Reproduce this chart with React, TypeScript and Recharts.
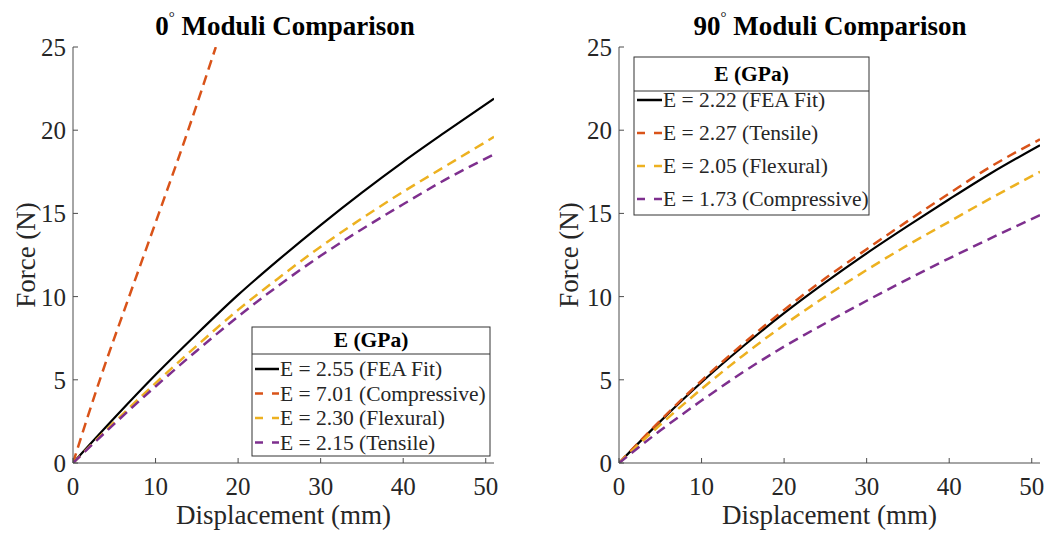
import React from 'react';
import { LineChart, Line, XAxis, YAxis } from 'recharts';

// ---------- data ----------
const xTicks = [0, 10, 20, 30, 40, 50];
const yTicks = [0, 5, 10, 15, 20, 25];
const xDomain = [0, 51];
const yDomain = [0, 25];

const titleLeft = '0';
const titleRight = '90';
const titleRest = ' Moduli Comparison';
const xLabel = 'Displacement (mm)';
const yLabel = 'Force (N)';
const legendHeader = 'E (GPa)';

// 0 degree
const dispLeft = [0, 5, 10, 15, 20, 25, 30, 35, 40, 45, 51];
const feaLeft = [0, 2.7, 5.3, 7.75, 10.1, 12.25, 14.3, 16.25, 18.1, 19.85, 21.9];
const flexLeft = [0, 2.45, 4.8, 7.05, 9.2, 11.15, 13.0, 14.7, 16.3, 17.8, 19.6];
const tensLeft = [0, 2.35, 4.6, 6.75, 8.8, 10.7, 12.45, 14.05, 15.55, 17.0, 18.55];
const compDispLeft = [0, 3.25, 6.8, 10.4, 13.95, 17.3];
const compLeft = [0, 5, 10, 15, 20, 25];
const namesLeft = ['E = 2.55 (FEA Fit)', 'E = 7.01 (Compressive)', 'E = 2.30 (Flexural)', 'E = 2.15 (Tensile)'];

// 90 degree
const dispRight = [0, 5, 10, 15, 20, 25, 30, 35, 40, 45, 51];
const feaRight = [0, 2.5, 4.85, 7.0, 9.0, 10.85, 12.6, 14.25, 15.85, 17.4, 19.1];
const tensRight = [0, 2.55, 4.95, 7.15, 9.2, 11.1, 12.85, 14.55, 16.2, 17.8, 19.45];
const flexRight = [0, 2.3, 4.45, 6.45, 8.3, 10.0, 11.6, 13.1, 14.5, 15.9, 17.5];
const compRight = [0, 1.95, 3.75, 5.45, 7.0, 8.4, 9.75, 11.05, 12.3, 13.5, 14.9];
const namesRight = ['E = 2.22 (FEA Fit)', 'E = 2.27 (Tensile)', 'E = 2.05 (Flexural)', 'E = 1.73 (Compressive)'];

// ---------- styles ----------
const BLACK = '#000000';
const ORANGE = '#D95319';
const YELLOW = '#EDB120';
const PURPLE = '#7E2F8E';
const FONT = '"Liberation Serif", "Times New Roman", serif';
const AX = '#4d4d4d';
const TXT = '#262626';
const TICK_LEN = 5;
const TICK_FS = 25;
const LABEL_FS = 27;
const LEG_FS = 21.5;

const toPoints = (xs: number[], ys: number[]) => xs.map((x, i) => ({ x, y: ys[i] }));

type Series = { name: string; color: string; dashed: boolean; data: { x: number; y: number }[] };

const leftSeries: Series[] = [
  { name: namesLeft[0], color: BLACK, dashed: false, data: toPoints(dispLeft, feaLeft) },
  { name: namesLeft[1], color: ORANGE, dashed: true, data: toPoints(compDispLeft, compLeft) },
  { name: namesLeft[2], color: YELLOW, dashed: true, data: toPoints(dispLeft, flexLeft) },
  { name: namesLeft[3], color: PURPLE, dashed: true, data: toPoints(dispLeft, tensLeft) },
];

const rightSeries: Series[] = [
  { name: namesRight[0], color: BLACK, dashed: false, data: toPoints(dispRight, feaRight) },
  { name: namesRight[1], color: ORANGE, dashed: true, data: toPoints(dispRight, tensRight) },
  { name: namesRight[2], color: YELLOW, dashed: true, data: toPoints(dispRight, flexRight) },
  { name: namesRight[3], color: PURPLE, dashed: true, data: toPoints(dispRight, compRight) },
];

// ---------- ticks ----------
const BottomTick = (props: any) => {
  const { x, y, payload } = props;
  return (
    <g>
      <line x1={x} x2={x} y1={y} y2={y - TICK_LEN} stroke={AX} strokeWidth={1} />
      <text x={x} y={y + 32} textAnchor="middle" fontFamily={FONT} fontSize={TICK_FS} fill={TXT}>
        {payload.value}
      </text>
    </g>
  );
};
const LeftTick = (props: any) => {
  const { x, y, payload } = props;
  return (
    <g>
      <line x1={x} x2={x + TICK_LEN} y1={y} y2={y} stroke={AX} strokeWidth={1} />
      <text x={x - 7} y={y + 9} textAnchor="end" fontFamily={FONT} fontSize={TICK_FS} fill={TXT}>
        {payload.value}
      </text>
    </g>
  );
};
const TopTick = (props: any) => {
  const { x, y } = props;
  return <line x1={x} x2={x} y1={y} y2={y + TICK_LEN} stroke={AX} strokeWidth={1} />;
};
const RightTick = (props: any) => {
  const { x, y } = props;
  return <line x1={x} x2={x - TICK_LEN} y1={y} y2={y} stroke={AX} strokeWidth={1} />;
};

const Panel = ({ series, yAxisWidth, rightMargin, yLabelOffset }: { series: Series[]; yAxisWidth: number; rightMargin: number; yLabelOffset: number }) => (
  <LineChart width={yAxisWidth + 421 + rightMargin} height={536} margin={{ top: 47, right: rightMargin, left: 0, bottom: 0 }}>
    <XAxis
      xAxisId="b"
      dataKey="x"
      type="number"
      domain={xDomain}
      ticks={xTicks}
      allowDataOverflow
      height={73}
      tickSize={0}
      tickMargin={0}
      tickLine={false}
      axisLine={{ stroke: AX }}
      tick={<BottomTick />}
      interval={0}
      label={{ value: xLabel, position: 'insideBottom', offset: 12, fontFamily: FONT, fontSize: LABEL_FS, fill: TXT }}
    />
    <XAxis
      xAxisId="t"
      orientation="top"
      dataKey="x"
      type="number"
      domain={xDomain}
      ticks={xTicks}
      allowDataOverflow
      height={0}
      tickSize={0}
      tickMargin={0}
      tickLine={false}
      axisLine={{ stroke: AX }}
      tick={<TopTick />}
      interval={0}
    />
    <YAxis
      yAxisId="l"
      type="number"
      domain={yDomain}
      ticks={yTicks}
      allowDataOverflow
      width={yAxisWidth}
      tickSize={0}
      tickMargin={0}
      tickLine={false}
      axisLine={{ stroke: AX }}
      tick={<LeftTick />}
      interval={0}
      label={{ value: yLabel, angle: -90, position: 'insideLeft', offset: yLabelOffset, fontFamily: FONT, fontSize: LABEL_FS, fill: TXT, style: { textAnchor: 'middle' } }}
    />
    <YAxis
      yAxisId="r"
      orientation="right"
      type="number"
      domain={yDomain}
      ticks={yTicks}
      allowDataOverflow
      width={0}
      tickSize={0}
      tickMargin={0}
      tickLine={false}
      axisLine={{ stroke: AX }}
      tick={<RightTick />}
      interval={0}
    />
    {series.map((s) => (
      <Line
        key={s.name}
        xAxisId="b"
        yAxisId="l"
        data={s.data}
        dataKey="y"
        name={s.name}
        type="monotone"
        stroke={s.color}
        strokeWidth={s.dashed ? 2.5 : 2.2}
        strokeDasharray={s.dashed ? '10 6' : undefined}
        dot={false}
        activeDot={false}
        isAnimationActive={false}
      />
    ))}
  </LineChart>
);

const Title = ({ cx, deg }: { cx: number; deg: string }) => (
  <text x={cx} y={35} textAnchor="middle" fontFamily={FONT} fontSize={27} fontWeight="bold" fill={BLACK}>
    <tspan>{deg}</tspan>
    <tspan dy={-13} fontSize={15} fontWeight="normal">{'°'}</tspan>
    <tspan dy={13}>{titleRest}</tspan>
  </text>
);

const LegendBox = ({
  series, x, y, w, h, headerLine, headerBase, rowStart, rowStep, sampleX0, sampleX1, textX,
}: any) => (
  <g>
    <rect x={x} y={y} width={w} height={h} fill="#ffffff" stroke="#333333" strokeWidth={1} />
    <line x1={x} x2={x + w} y1={headerLine} y2={headerLine} stroke="#333333" strokeWidth={1} />
    <text x={x + w / 2} y={headerBase} textAnchor="middle" fontFamily={FONT} fontSize={LEG_FS} fontWeight="bold" fill={BLACK}>
      {legendHeader}
    </text>
    {series.map((s: Series, i: number) => {
      const cy = rowStart + i * rowStep;
      return (
        <g key={s.name}>
          <line
            x1={sampleX0}
            x2={sampleX1}
            y1={cy}
            y2={cy}
            stroke={s.color}
            strokeWidth={2.5}
            strokeDasharray={s.dashed ? '8 9' : undefined}
          />
          <text x={textX} y={cy + 7} fontFamily={FONT} fontSize={LEG_FS} fill={TXT}>
            {s.name}
          </text>
        </g>
      );
    })}
  </g>
);

export default function App() {
  return (
    <div style={{ position: 'absolute', left: 0, top: 0, width: 1049, height: 536, background: '#ffffff' }}>
      <div style={{ position: 'absolute', left: 0, top: 0 }}>
        <Panel series={leftSeries} yAxisWidth={73} rightMargin={23} yLabelOffset={25} />
      </div>
      <div style={{ position: 'absolute', left: 520, top: 0 }}>
        <Panel series={rightSeries} yAxisWidth={99} rightMargin={9} yLabelOffset={48} />
      </div>
      <svg width={1049} height={536} style={{ position: 'absolute', left: 0, top: 0, pointerEvents: 'none' }}>
        <Title cx={285} deg={titleLeft} />
        <Title cx={830} deg={titleRight} />
        <LegendBox
          series={leftSeries}
          x={252} y={327} w={238} h={129}
          headerLine={354} headerBase={347}
          rowStart={369} rowStep={24.5}
          sampleX0={255} sampleX1={279} textX={280}
        />
        <LegendBox
          series={rightSeries}
          x={634} y={57} w={235} h={158}
          headerLine={91} headerBase={81}
          rowStart={100} rowStep={33}
          sampleX0={637} sampleX1={662} textX={663}
        />
      </svg>
    </div>
  );
}
